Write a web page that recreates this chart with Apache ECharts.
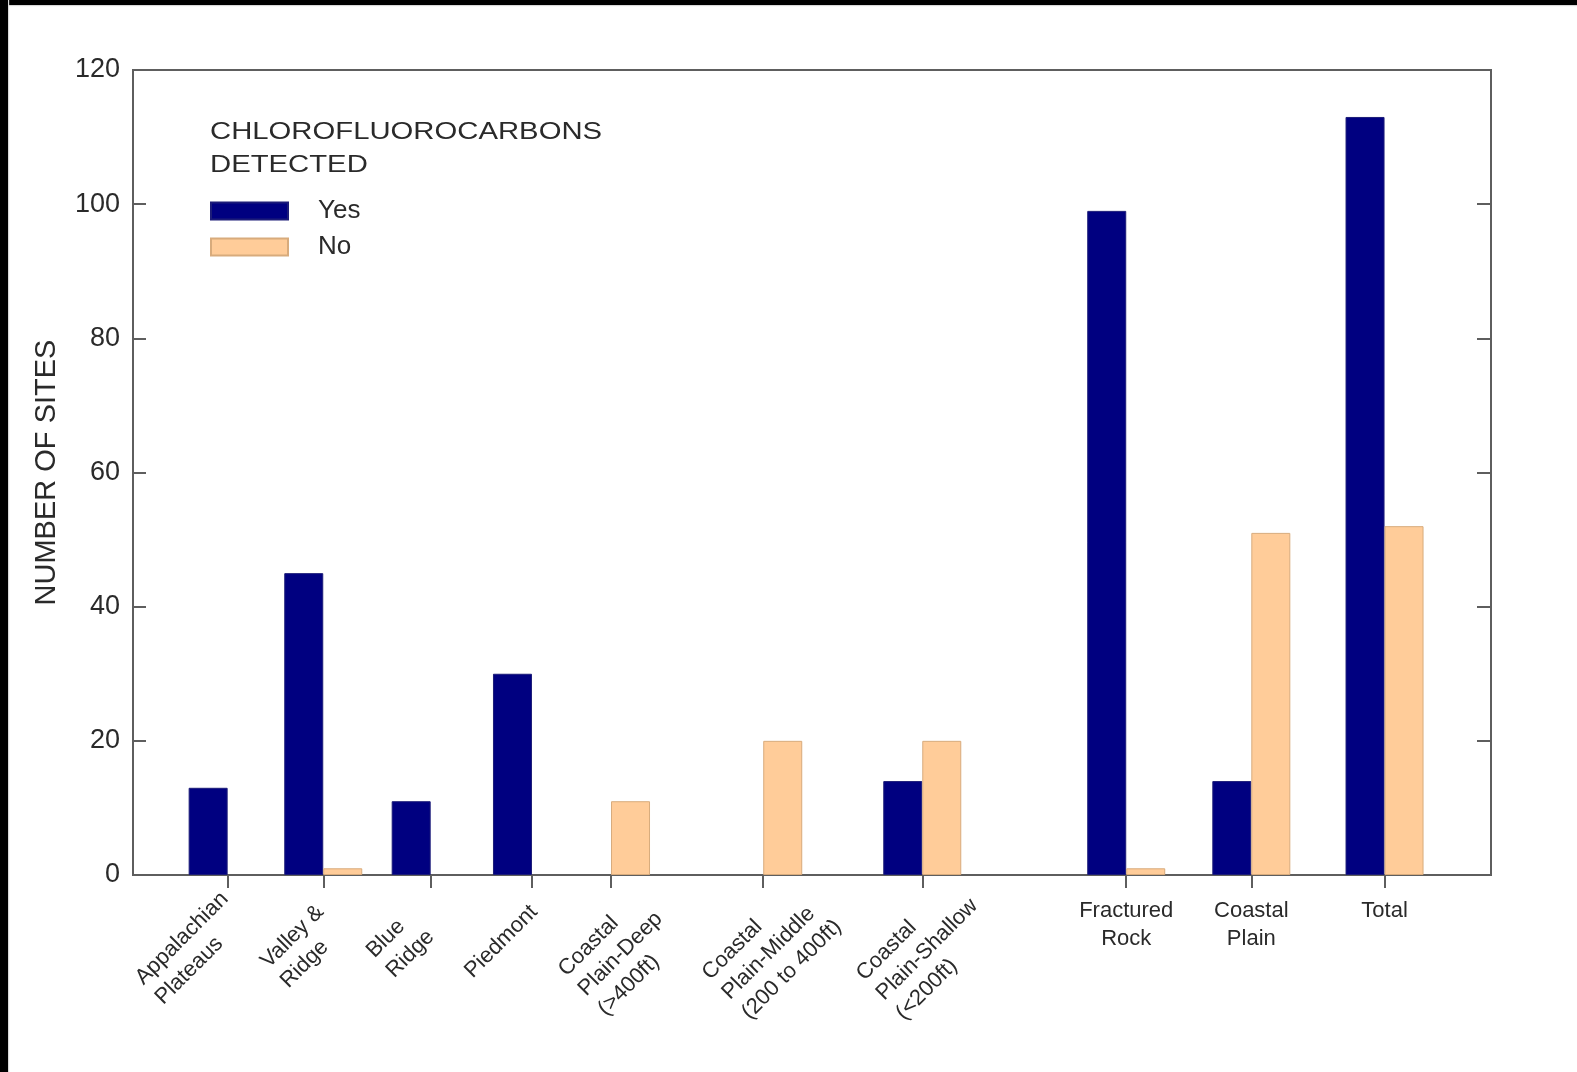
<!DOCTYPE html>
<html>
<head>
<meta charset="utf-8">
<title>Chlorofluorocarbons detected by physiographic province</title>
<script src="https://cdn.jsdelivr.net/npm/echarts@6/dist/echarts.min.js"></script>
<style>
  html, body { margin: 0; padding: 0; background: #ffffff; }
  #chart { position: absolute; left: 0; top: 0; width: 1577px; height: 1072px; }
  .edge { position: absolute; background: #000000; }
</style>
</head>
<body>
<div id="chart"></div>
<div class="edge" style="left:0;top:0;width:1577px;height:5px;box-shadow:0 1px 1px #d8d8d8;"></div>
<div class="edge" style="left:0;top:0;width:8px;height:1072px;box-shadow:1px 0 1px #d8d8d8;"></div>
<script>
// Sampling areas (labels break over several lines)
const categories = [
  'Appalachian\nPlateaus',
  'Valley &\nRidge',
  'Blue\nRidge',
  'Piedmont',
  'Coastal\nPlain-Deep\n(>400ft)',
  'Coastal\nPlain-Middle\n(200 to 400ft)',
  'Coastal\nPlain-Shallow\n(<200ft)',
  'Fractured\nRock',
  'Coastal\nPlain',
  'Total'
];

// Number of sites where CFCs were / were not detected
const yesSites = [13, 45, 11, 30, 0, 0, 14, 99, 14, 113];
const noSites  = [0, 1, 0, 0, 11, 20, 20, 1, 51, 52];

// Y axis ticks
const yTickValues = [0, 20, 40, 60, 80, 100, 120];

// Where each group sits along the x axis (percent of the plot width)
const X_MIN = 0, X_MAX = 100;
const groupSlots = [6.97, 14.01, 21.92, 29.38, 35.20, 46.41, 58.12, 73.14, 82.35, 92.16];

// The first seven groups get slanted labels, the summary groups upright ones
const slantedCount = 7;

// Extra screen shift [dx, dy] in px for each slanted label block
const slantNudge = [[0, 0], [0, 13], [-17, 18], [5, 13], [31, 0], [38, -12], [35, -13]];

const FONT = '"Liberation Sans", Arial, Helvetica, sans-serif';
const INK = '#2a2a2a';
const AXIS = '#5e5e5e';
const LABEL_SIZE = 22;
const LABEL_LINE = 28;
const REACH = 20;   // how far the slanted block's right edge runs past the tick (along the text)

function indexAt(value) {
  return groupSlots.findIndex(p => Math.abs(p - value) < 1e-6);
}

function labelAt(value) {
  const i = indexAt(value);
  return i >= 0 ? categories[i] : ' ';
}

// Text widths for the slanted labels, measured with the label font
const measureCtx = document.createElement('canvas').getContext('2d');
measureCtx.font = LABEL_SIZE + 'px ' + FONT;
function widest(text) {
  return Math.max.apply(null, text.split('\n').map(s => measureCtx.measureText(s).width));
}

// Rich styles: one fixed-width, flush-left style per slanted label plus an optional spacer line
const slantRich = {};
for (let k = 0; k < slantedCount; k++) {
  const dx = slantNudge[k][0], dy = slantNudge[k][1];
  const along = (dx - dy) * Math.SQRT1_2;
  const across = (dx + dy) * Math.SQRT1_2;
  slantRich['w' + k] = {
    width: widest(categories[k]) + 16.6 + REACH - along,
    align: 'left',
    fontSize: LABEL_SIZE,
    lineHeight: LABEL_LINE,
    color: INK,
    fontFamily: FONT
  };
  slantRich['g' + k] = {
    fontSize: 1,
    lineHeight: Math.max(across, 0.1),
    height: Math.max(across, 0.1),
    width: 1
  };
}

function slantedLabel(value) {
  const k = indexAt(value);
  if (k < 0 || k >= slantedCount) return ' ';
  const lines = categories[k].split('\n').map(line => '{w' + k + '|' + line + '}');
  const across = (slantNudge[k][0] + slantNudge[k][1]) * Math.SQRT1_2;
  if (across > 0.5) lines.unshift('{g' + k + '| }');
  return lines.join('\n');
}

// Blank end stops keep the axis from dropping crowded first/last labels
const slantedLabelValues = [X_MIN].concat(groupSlots.slice(0, slantedCount), [X_MAX]);
const uprightLabelValues = [X_MIN].concat(groupSlots.slice(slantedCount), [X_MAX]);

// Bars of zero height get no outline so nothing shows on the axis
function barData(values) {
  return values.map((v, i) => {
    const item = { value: [groupSlots[i], v] };
    if (v === 0) item.itemStyle = { borderWidth: 0 };
    return item;
  });
}

const gridBox = { left: 133, right: 86, top: 70, bottom: 197 };

const chart = echarts.init(document.getElementById('chart'), null, { renderer: 'canvas' });

const option = {
  backgroundColor: '#ffffff',
  animation: false,
  textStyle: { fontFamily: FONT },
  grid: [
    Object.assign({ show: true, borderColor: AXIS, borderWidth: 2, backgroundColor: 'transparent', containLabel: false }, gridBox),
    Object.assign({ show: false, containLabel: false }, gridBox)
  ],
  graphic: [
    {
      type: 'text',
      x: 210,
      y: 116,
      scaleX: 1.22,
      style: {
        text: 'CHLOROFLUOROCARBONS\nDETECTED',
        font: '24px ' + FONT,
        lineHeight: 33,
        fill: INK,
        textAlign: 'left',
        textVerticalAlign: 'top'
      }
    }
  ],
  legend: {
    orient: 'vertical',
    left: 210,
    top: 196,
    padding: 0,
    itemGap: 6,
    itemWidth: 77,
    itemHeight: 17,
    icon: 'rect',
    selectedMode: false,
    textStyle: {
      fontFamily: FONT,
      fontSize: 26,
      color: INK,
      lineHeight: 30,
      padding: [0, 0, 0, 25]
    },
    data: ['Yes', 'No']
  },
  xAxis: [
    {
      type: 'value',
      gridIndex: 0,
      position: 'bottom',
      min: X_MIN,
      max: X_MAX,
      splitLine: { show: false },
      axisLine: { show: true, onZero: false, lineStyle: { color: AXIS, width: 2 } },
      axisTick: {
        show: true,
        inside: false,
        length: 13,
        customValues: groupSlots,
        lineStyle: { color: AXIS, width: 2 }
      },
      axisLabel: {
        show: true,
        rotate: 45,
        margin: -REACH * Math.SQRT2,
        align: 'right',
        verticalAlign: 'top',
        padding: [REACH - 1.4, 0, 0, 0],
        color: INK,
        fontFamily: FONT,
        fontSize: LABEL_SIZE,
        lineHeight: LABEL_LINE,
        hideOverlap: false,
        showMinLabel: true,
        showMaxLabel: true,
        customValues: slantedLabelValues,
        formatter: slantedLabel,
        rich: slantRich
      }
    },
    {
      type: 'value',
      gridIndex: 1,
      position: 'bottom',
      min: X_MIN,
      max: X_MAX,
      splitLine: { show: false },
      axisLine: { show: false },
      axisTick: { show: false },
      axisLabel: {
        show: true,
        rotate: 0,
        margin: 22,
        fontSize: LABEL_SIZE,
        lineHeight: LABEL_LINE,
        color: INK,
        fontFamily: FONT,
        hideOverlap: false,
        showMinLabel: true,
        showMaxLabel: true,
        customValues: uprightLabelValues,
        formatter: labelAt
      }
    }
  ],
  yAxis: [
    {
      type: 'value',
      gridIndex: 0,
      position: 'left',
      min: 0,
      max: 120,
      interval: 20,
      name: 'NUMBER OF SITES',
      nameLocation: 'middle',
      nameGap: 72,
      nameRotate: 90,
      nameTextStyle: { fontSize: 29, color: INK, fontFamily: FONT },
      splitLine: { show: false },
      axisLine: { show: true, lineStyle: { color: AXIS, width: 2 } },
      axisTick: { show: true, inside: true, length: 13, lineStyle: { color: AXIS, width: 2 } },
      axisLabel: {
        show: true,
        margin: 13,
        fontSize: 27,
        color: INK,
        fontFamily: FONT,
        showMinLabel: true,
        showMaxLabel: true,
        customValues: yTickValues
      }
    },
    {
      type: 'value',
      gridIndex: 0,
      position: 'right',
      min: 0,
      max: 120,
      interval: 20,
      splitLine: { show: false },
      axisLine: { show: true, lineStyle: { color: AXIS, width: 2 } },
      axisTick: { show: true, inside: true, length: 14, lineStyle: { color: AXIS, width: 2 } },
      axisLabel: { show: false }
    },
    {
      type: 'value',
      gridIndex: 1,
      min: 0,
      max: 120,
      show: false
    }
  ],
  series: [
    {
      name: 'Yes',
      type: 'bar',
      xAxisIndex: 0,
      yAxisIndex: 0,
      barWidth: 39,
      barGap: '0%',
      itemStyle: { color: '#000080', borderColor: '#1c1c78', borderWidth: 1 },
      data: barData(yesSites)
    },
    {
      name: 'No',
      type: 'bar',
      xAxisIndex: 0,
      yAxisIndex: 0,
      barWidth: 39,
      barGap: '0%',
      itemStyle: { color: '#ffcc99', borderColor: '#d8ab7c', borderWidth: 1 },
      data: barData(noSites)
    }
  ]
};

chart.setOption(option);
</script>
</body>
</html>
